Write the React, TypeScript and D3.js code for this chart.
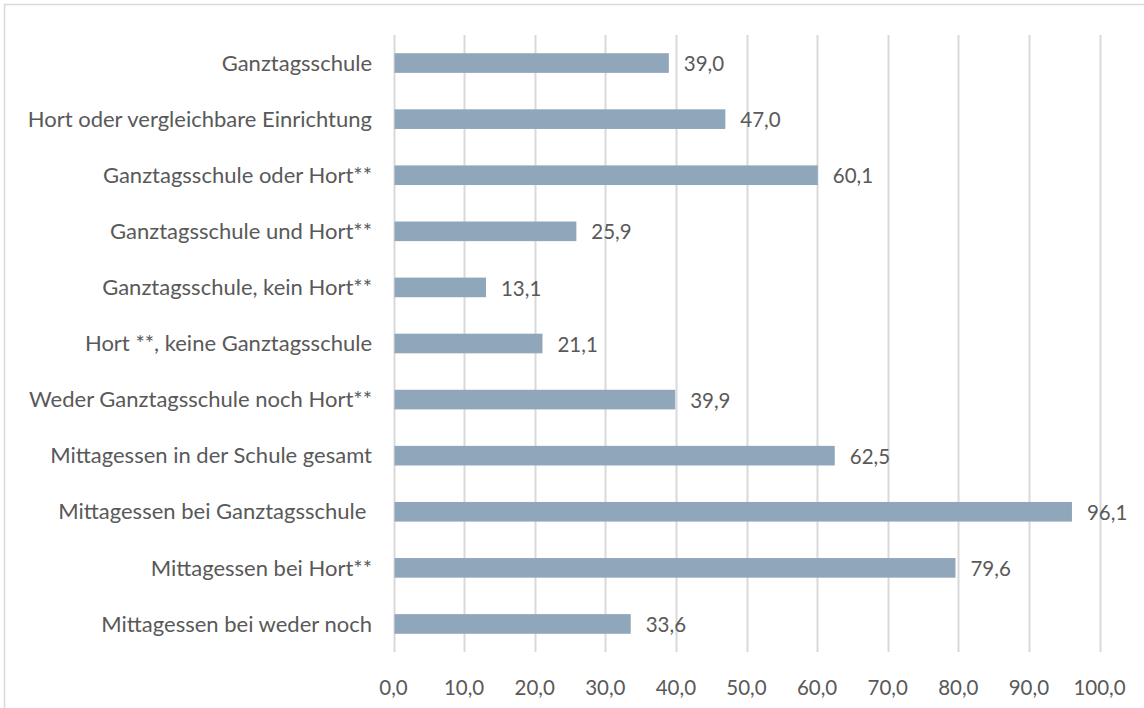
import React from "react"
import * as d3 from "d3"

const categories = [
  "Ganztagsschule",
  "Hort oder vergleichbare Einrichtung",
  "Ganztagsschule oder Hort**",
  "Ganztagsschule und Hort**",
  "Ganztagsschule, kein Hort**",
  "Hort **, keine Ganztagsschule",
  "Weder Ganztagsschule noch Hort**",
  "Mittagessen in der Schule gesamt",
  "Mittagessen bei Ganztagsschule ",
  "Mittagessen bei Hort**",
  "Mittagessen bei weder noch",
]
const values = [39.0, 47.0, 60.1, 25.9, 13.1, 21.1, 39.9, 62.5, 96.1, 79.6, 33.6]
const ticks = [0, 10, 20, 30, 40, 50, 60, 70, 80, 90, 100]

const W = 1144
const H = 708
const font = "Lato, sans-serif"
const textColor = "#595959"

export default function App() {
  const x = d3.scaleLinear().domain([0, 100]).range([393.5, 1099.5])
  const y = d3.scaleBand().domain(categories).range([35, 652]).paddingInner(0.65).paddingOuter(0.325)
  const de = d3.formatLocale({decimal: ",", thousands: ".", grouping: [3], currency: ["", "€"]})
  const fmt = de.format(".1f")

  return (
    <div style={{position: "absolute", left: 0, top: 0}}>
      <svg width={W} height={H} style={{display: "block"}}>
        <rect x={0} y={0} width={W} height={H} fill="#fff" />
        <rect x={4.5} y={4.5} width={W + 10} height={H + 10} fill="none" stroke="#d9d9d9" strokeWidth={1.5} />
        {/* gridlines */}
        {ticks.map(t => (
          <line key={t} x1={Math.round(x(t)) + 0.5} x2={Math.round(x(t)) + 0.5} y1={35} y2={652} stroke="#d9d9d9" strokeWidth={2} />
        ))}
        {/* bars */}
        {categories.map((c, i) => (
          <rect key={c} x={x(0) + 1} y={y(c)} width={x(values[i]) - x(0) - 1} height={y.bandwidth()} fill="#8fa6bb" />
        ))}
        {/* value labels */}
        {categories.map((c, i) => (
          <text key={c} x={x(values[i]) + 15} y={y(c)! + y.bandwidth() / 2 + 1} dy="0.35em"
            fontFamily={font} fontSize={20.5} fill={textColor}>{fmt(values[i])}</text>
        ))}
        {/* category labels */}
        {categories.map(c => (
          <text key={c} x={372} y={y(c)! + y.bandwidth() / 2} dy="0.35em" textAnchor="end"
            fontFamily={font} fontSize={22} fill={textColor} style={{whiteSpace: "pre"}}>{c}</text>
        ))}
        {/* x tick labels */}
        {ticks.map(t => (
          <text key={t} x={x(t)} y={688} dy="0.35em" textAnchor="middle"
            fontFamily={font} fontSize={20.5} fill={textColor}>{fmt(t)}</text>
        ))}
      </svg>
    </div>
  )
}
